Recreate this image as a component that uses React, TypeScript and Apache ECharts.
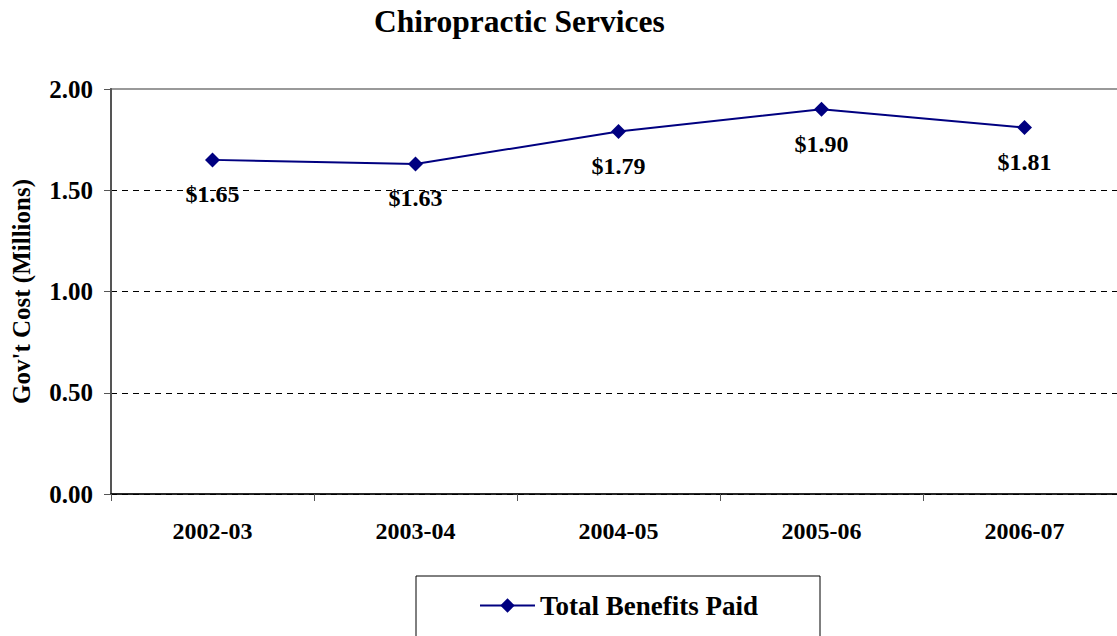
import React, { useEffect, useRef } from "react";
import * as echarts from "echarts";

const categories = ["2002-03", "2003-04", "2004-05", "2005-06", "2006-07"];
const benefits = [1.65, 1.63, 1.79, 1.9, 1.81];
const seriesName = "Total Benefits Paid";
const titleText = "Chiropractic Services";
const yAxisName = "Gov't Cost (Millions)";

const FONT = "'Liberation Serif', 'Times New Roman', serif";

export default function App() {
  const ref = useRef<HTMLDivElement>(null);
  useEffect(() => {
    if (!ref.current) return;
    const chart = echarts.init(ref.current, undefined, { renderer: "svg" });
    chart.setOption({
      animation: false,
      backgroundColor: "#fff",
      title: {
        text: titleText,
        left: 374,
        top: 5,
        padding: 0,
        textStyle: { fontFamily: FONT, fontWeight: "bold", fontSize: 31.5, color: "#000" },
      },
      grid: {
        left: 111,
        top: 89,
        right: 14,
        bottom: 142,
        show: true,
        borderColor: "#999",
        borderWidth: 2,
        containLabel: false,
      },
      graphic: [
        {
          type: "rect",
          shape: { x: 416, y: 576, width: 404, height: 90 },
          style: { fill: "#fff", stroke: "#000", lineWidth: 1 },
          z: 0,
        },
      ],
      legend: {
        left: 479,
        top: 592,
        padding: 0,
        itemWidth: 55,
        itemHeight: 18,
        itemGap: 7,
        textStyle: { fontFamily: FONT, fontWeight: "bold", fontSize: 27, color: "#000" },
        data: [seriesName],
        z: 5,
      },
      xAxis: {
        type: "category",
        data: categories,
        boundaryGap: true,
        axisLine: { show: true, lineStyle: { color: "#000", width: 1.5 } },
        axisTick: { show: true, length: 7, lineStyle: { color: "#555" } },
        axisLabel: {
          margin: 25,
          fontFamily: FONT,
          fontWeight: "bold",
          fontSize: 24,
          color: "#000",
        },
        splitLine: { show: false },
      },
      yAxis: {
        type: "value",
        min: 0,
        max: 2,
        interval: 0.5,
        name: yAxisName,
        nameLocation: "middle",
        nameGap: 77,
        nameTextStyle: { fontFamily: FONT, fontWeight: "bold", fontSize: 25, color: "#000" },
        axisLine: { show: true, lineStyle: { color: "#555", width: 2 } },
        axisTick: { show: true, length: 7, lineStyle: { color: "#555" } },
        axisLabel: {
          margin: 18,
          fontFamily: FONT,
          fontWeight: "bold",
          fontSize: 25,
          color: "#000",
          formatter: (v: number) => v.toFixed(2),
        },
        splitLine: {
          show: true,
          lineStyle: {
            color: ["#000", "#000", "#000", "#000", "rgba(0,0,0,0)"],
            type: [6, 5],
            width: 1,
          },
        },
      },
      series: [
        {
          name: seriesName,
          type: "line",
          data: benefits,
          symbol: "diamond",
          symbolSize: 15,
          lineStyle: { color: "#000080", width: 2 },
          itemStyle: { color: "#000080" },
          label: {
            show: true,
            position: "bottom",
            distance: 15,
            fontFamily: FONT,
            fontWeight: "bold",
            fontSize: 24,
            color: "#000",
            formatter: (p: any) => "$" + Number(p.value).toFixed(2),
          },
        },
      ],
    });
    return () => chart.dispose();
  }, []);
  return (
    <div style={{ position: "fixed", left: 0, top: 0, width: 1117, height: 636, overflow: "hidden", background: "#fff" }}>
      <div ref={ref} style={{ width: 1140, height: 636 }} />
    </div>
  );
}
